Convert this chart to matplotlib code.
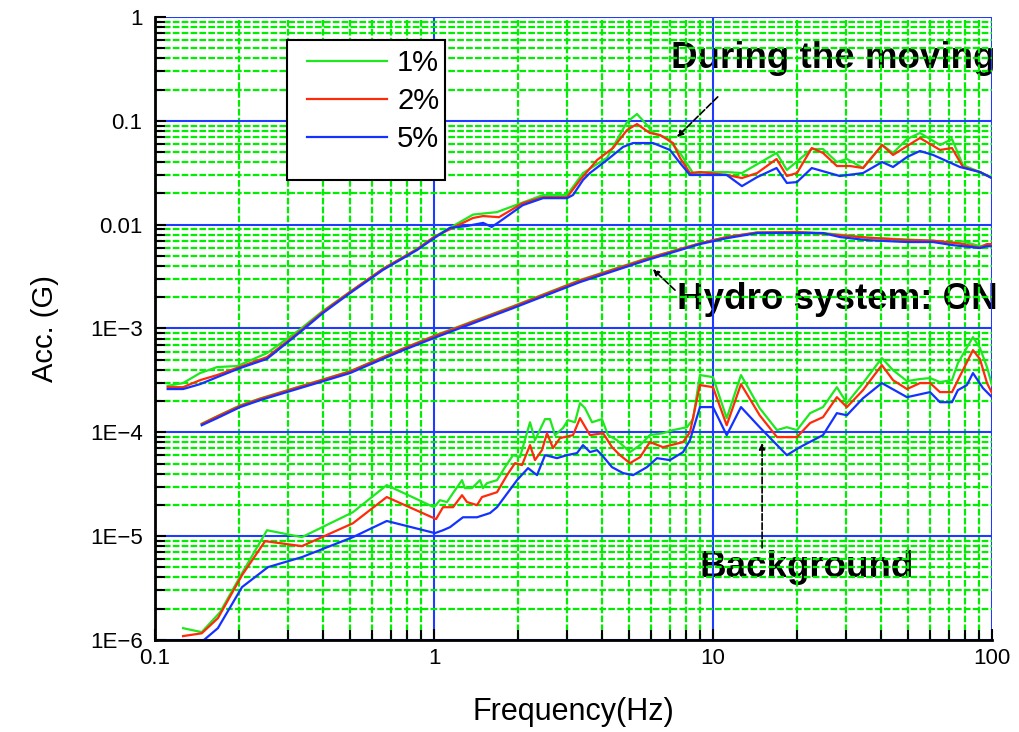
import numpy as np
import matplotlib
matplotlib.use("Agg")
import matplotlib.pyplot as plt
from matplotlib.ticker import LogLocator, NullFormatter
from matplotlib.patches import Rectangle

plt.rcParams['font.family'] = ['Liberation Sans', 'DejaVu Sans']

# response spectra, damping 1% / 2% / 5%
# --- during the moving ---
mov_f_5 = [0.111, 0.126, 0.145, 0.167, 0.202, 0.252, 0.331, 0.40, 0.50, 0.656, 0.869, 1.0, 1.14,
           1.31, 1.50, 1.61, 1.71, 2.08, 2.46, 3.0, 3.15, 3.42, 3.62, 4.17, 4.76, 5.17, 6.10, 7.01,
           7.62, 8.27, 9.51, 11.2, 12.7, 14.4, 16.9, 18.4, 20.0, 22.6, 28.5, 34.5, 40.4, 44.2, 49.6,
           55.2, 61.5, 76.8, 90.6, 100]
mov_a_5 = [2.61e-4, 2.61e-4, 2.91e-4, 3.40e-4, 4.16e-4, 5.10e-4, 9.2e-4, 1.41e-3, 2.19e-3, 3.66e-3,
           5.69e-3, 7.4e-3, 9.3e-3, 9.7e-3, 1.04e-2, 9.5e-3, 1.06e-2, 1.54e-2, 1.80e-2, 1.80e-2,
           1.93e-2, 2.69e-2, 3.14e-2, 4.19e-2, 5.60e-2, 6.11e-2, 6.11e-2, 5.24e-2, 3.92e-2, 3.01e-2,
           3.01e-2, 3.01e-2, 2.35e-2, 2.87e-2, 3.51e-2, 2.52e-2, 2.57e-2, 3.51e-2, 2.94e-2, 3.14e-2,
           4.01e-2, 3.59e-2, 4.48e-2, 5.12e-2, 4.69e-2, 3.59e-2, 3.21e-2, 2.81e-2]
mov_f_2 = [0.111, 0.126, 0.145, 0.167, 0.252, 0.331, 0.40, 0.50, 0.656, 0.869, 1.0, 1.38, 1.50,
           1.71, 2.08, 2.46, 3.0, 3.34, 3.84, 4.38, 4.92, 5.34, 5.94, 6.46, 7.19, 7.62, 8.27, 8.98,
           11.2, 12.7, 14.4, 16.9, 18.4, 20.0, 22.6, 24.8, 27.8, 31.0, 34.5, 40.4, 44.2, 49.6, 55.2,
           65.2, 71.9, 78.7, 90.6, 100]
mov_a_2 = [2.72e-4, 2.72e-4, 3.18e-4, 3.56e-4, 5.30e-4, 9.4e-4, 1.45e-3, 2.25e-3, 3.75e-3, 5.8e-3,
           7.6e-3, 1.16e-2, 1.21e-2, 1.18e-2, 1.61e-2, 1.84e-2, 1.84e-2, 2.69e-2, 4.19e-2, 5.47e-2,
           8.15e-2, 9.31e-2, 7.63e-2, 7.30e-2, 6.11e-2, 4.38e-2, 3.14e-2, 3.21e-2, 3.01e-2, 2.81e-2,
           3.14e-2, 4.29e-2, 2.94e-2, 3.14e-2, 5.47e-2, 4.90e-2, 3.67e-2, 3.67e-2, 3.51e-2, 5.85e-2,
           4.69e-2, 5.72e-2, 6.83e-2, 5.24e-2, 5.47e-2, 3.59e-2, 3.21e-2, 2.81e-2]
mov_f_1 = [0.111, 0.126, 0.145, 0.167, 0.197, 0.252, 0.331, 0.40, 0.50, 0.656, 0.869, 1.0, 1.38,
           1.68, 2.46, 3.0, 3.42, 4.17, 4.92, 5.34, 5.80, 6.10, 6.84, 7.62, 8.48, 9.51, 11.2, 12.7,
           16.9, 18.4, 22.6, 24.8, 27.8, 30.2, 34.5, 40.4, 44.2, 49.6, 55.2, 65.2, 71.9, 78.7, 90.6,
           100]
mov_a_1 = [2.80e-4, 2.98e-4, 3.72e-4, 4.25e-4, 4.35e-4, 5.79e-4, 9.8e-4, 1.48e-3, 2.25e-3, 3.75e-3,
           5.8e-3, 7.6e-3, 1.25e-2, 1.32e-2, 1.93e-2, 1.93e-2, 3.14e-2, 4.40e-2, 9.74e-2, 0.1163,
           9.11e-2, 7.63e-2, 6.83e-2, 4.90e-2, 3.14e-2, 3.21e-2, 3.21e-2, 3.14e-2, 4.90e-2, 3.36e-2,
           5.35e-2, 5.35e-2, 4.01e-2, 4.29e-2, 3.51e-2, 5.85e-2, 4.90e-2, 6.68e-2, 7.63e-2, 5.85e-2,
           6.68e-2, 3.75e-2, 3.21e-2, 2.81e-2]

# --- hydro system ON ---
hyd_f = [0.147, 0.167, 0.202, 0.238, 0.50, 0.755, 1.0, 1.92, 3.34, 5.80, 8.98, 11.2, 14.4, 20.0,
         24.8, 28.5, 35.6, 49.6, 61.5, 72.4, 78.7, 90.6, 95.9, 100]
hyd_a_5 = [1.17e-4, 1.37e-4, 1.75e-4, 2.04e-4, 3.72e-4, 6.0e-4, 8.1e-4, 1.57e-3, 2.80e-3, 4.56e-3,
           6.5e-3, 7.4e-3, 8.3e-3, 8.3e-3, 8.3e-3, 7.6e-3, 7.1e-3, 6.8e-3, 6.8e-3, 6.35e-3, 6.2e-3,
           5.95e-3, 6.2e-3, 6.2e-3]
hyd_a_2 = [1.20e-4, 1.42e-4, 1.80e-4, 2.10e-4, 3.85e-4, 6.2e-4, 8.4e-4, 1.62e-3, 2.90e-3, 4.70e-3,
           6.6e-3, 7.6e-3, 8.4e-3, 8.5e-3, 8.2e-3, 7.9e-3, 7.5e-3, 7.1e-3, 7.0e-3, 6.7e-3, 6.5e-3,
           6.0e-3, 6.5e-3, 6.5e-3]
hyd_a_1 = [1.21e-4, 1.43e-4, 1.82e-4, 2.12e-4, 3.88e-4, 6.25e-4, 8.5e-4, 1.64e-3, 2.93e-3, 4.75e-3,
           6.6e-3, 7.6e-3, 8.4e-3, 8.5e-3, 8.3e-3, 8.0e-3, 7.5e-3, 7.2e-3, 7.0e-3, 6.7e-3, 6.9e-3,
           6.2e-3, 6.4e-3, 6.5e-3]

# --- background ---
bg_f_1 = [0.126, 0.147, 0.171, 0.205, 0.252, 0.336, 0.512, 0.677, 1.0, 1.05, 1.113, 1.170, 1.260,
          1.291, 1.368, 1.462, 1.498, 1.549, 1.682, 1.797, 1.920, 2.033, 2.209, 2.301, 2.50, 2.605,
          2.715, 2.900, 3.02, 3.20, 3.337, 3.477, 3.685, 4.00, 4.205, 4.53, 5.04, 5.48, 5.94, 6.62,
          7.19, 8.07, 8.48, 8.98, 10.0, 11.2, 12.6, 14.7, 16.96, 18.4, 20.0, 22.3, 24.8, 27.8, 30.2,
          34.5, 40.3, 44.2, 49.6, 55.2, 60.0, 65.1, 71.9, 75.5, 85.5, 90.6, 96.0, 100]
bg_a_1 = [1.30e-6, 1.19e-6, 1.85e-6, 4.40e-6, 1.14e-5, 9.78e-6, 1.70e-5, 3.10e-5, 1.90e-5, 2.22e-5,
          2.13e-5, 2.60e-5, 3.46e-5, 2.90e-5, 2.90e-5, 3.46e-5, 2.90e-5, 3.24e-5, 3.46e-5, 4.62e-5,
          6.03e-5, 5.77e-5, 1.25e-4, 8.4e-5, 1.34e-4, 1.34e-4, 9.4e-5, 1.10e-4, 1.31e-4, 1.25e-4,
          1.91e-4, 1.71e-4, 1.25e-4, 1.34e-4, 9.4e-5, 8.4e-5, 6.45e-5, 7.53e-5, 9.4e-5, 9.8e-5,
          1.05e-4, 1.12e-4, 1.34e-4, 3.56e-4, 3.40e-4, 1.37e-4, 3.56e-4, 1.71e-4, 1.05e-4, 1.12e-4,
          1.05e-4, 1.53e-4, 1.75e-4, 2.72e-4, 1.91e-4, 2.98e-4, 5.19e-4, 3.97e-4, 3.11e-4, 3.26e-4,
          3.33e-4, 3.05e-4, 3.18e-4, 4.64e-4, 8.26e-4, 6.47e-4, 4.25e-4, 2.85e-4]
bg_f_2 = [0.126, 0.147, 0.168, 0.205, 0.248, 0.336, 0.512, 0.677, 1.017, 1.077, 1.170, 1.260, 1.313,
          1.426, 1.486, 1.682, 1.827, 1.952, 2.067, 2.209, 2.301, 2.438, 2.541, 2.670, 2.829, 3.15,
          3.337, 3.624, 4.04, 4.345, 4.64, 5.04, 5.48, 5.94, 6.62, 7.81, 8.27, 8.98, 10.0, 11.2,
          12.6, 14.7, 16.96, 20.0, 22.3, 24.8, 27.8, 30.2, 34.5, 40.3, 44.2, 49.6, 55.2, 60.0, 65.1,
          71.9, 75.5, 85.5, 90.6, 96.0, 100]
bg_a_2 = [1.09e-6, 1.16e-6, 1.62e-6, 4.21e-6, 8.95e-6, 8.01e-6, 1.33e-5, 2.38e-5, 1.46e-5, 1.90e-5,
          1.90e-5, 2.48e-5, 2.13e-5, 1.99e-5, 2.38e-5, 2.65e-5, 3.87e-5, 5.05e-5, 4.83e-5, 7.53e-5,
          5.40e-5, 6.74e-5, 9.8e-5, 7.05e-5, 8.8e-5, 9.4e-5, 1.37e-4, 9.4e-5, 9.8e-5, 7.2e-5,
          6.03e-5, 5.05e-5, 5.77e-5, 8.05e-5, 7.2e-5, 8.05e-5, 1.00e-4, 2.85e-4, 2.72e-4, 1.17e-4,
          2.91e-4, 1.46e-4, 9.0e-5, 9.0e-5, 1.23e-4, 1.40e-4, 2.18e-4, 1.75e-4, 2.55e-4, 4.44e-4,
          3.18e-4, 2.61e-4, 2.98e-4, 2.98e-4, 2.44e-4, 2.44e-4, 3.18e-4, 6.19e-4, 5.07e-4, 2.98e-4,
          2.39e-4]
bg_f_5 = [0.126, 0.145, 0.168, 0.205, 0.254, 0.336, 0.512, 0.677, 1.008, 1.077, 1.141, 1.27, 1.426,
          1.588, 1.682, 1.984, 2.173, 2.340, 2.50, 2.760, 2.997, 3.255, 3.42, 3.624, 3.84, 4.00,
          4.345, 4.76, 5.17, 5.80, 6.30, 7.01, 7.81, 8.27, 8.98, 10.0, 11.2, 12.6, 14.7, 18.4, 20.5,
          24.8, 27.8, 30.2, 34.5, 40.3, 49.6, 60.0, 65.1, 71.9, 75.5, 81.3, 85.5, 92.8, 100]
bg_a_5 = [8.0e-7, 9.3e-7, 1.30e-6, 3.23e-6, 5.03e-6, 6.28e-6, 9.78e-6, 1.40e-5, 1.07e-5, 1.14e-5,
          1.22e-5, 1.52e-5, 1.52e-5, 1.67e-5, 1.90e-5, 3.46e-5, 4.52e-5, 3.87e-5, 6.03e-5, 5.64e-5,
          6.03e-5, 6.31e-5, 7.53e-5, 6.45e-5, 6.74e-5, 6.03e-5, 4.62e-5, 4.05e-5, 3.87e-5, 4.62e-5,
          5.64e-5, 5.40e-5, 6.45e-5, 8.4e-5, 1.75e-4, 1.75e-4, 9.4e-5, 1.75e-4, 1.12e-4, 6.03e-5,
          7.2e-5, 9.4e-5, 1.53e-4, 1.46e-4, 2.13e-4, 2.98e-4, 2.18e-4, 2.44e-4, 1.95e-4, 1.95e-4,
          2.55e-4, 2.85e-4, 3.72e-4, 2.67e-4, 2.18e-4]

damping_labels = ['1%', '2%', '5%']
x_ticks = [0.1, 1, 10, 100]
x_ticklabels = ['0.1', '1', '10', '100']
y_ticks = [1e-6, 1e-5, 1e-4, 1e-3, 0.01, 0.1, 1]
y_ticklabels = ['1E\u22126', '1E\u22125', '1E\u22124', '1E\u22123', '0.01', '0.1', '1']

c_green = '#1ee81e'
c_red = '#ff2a0a'
c_blue = '#1432ff'

fig = plt.figure(figsize=(10.2, 7.32), dpi=100)
ax = fig.add_axes([0.152, 0.1257, 0.8205, 0.8511])
ax.set_xscale('log')
ax.set_yscale('log')
ax.set_xlim(0.1, 100)
ax.set_ylim(1e-6, 1)

# 1% first so it ends up at the bottom of each bundle
lw = 1.6
ax.plot(mov_f_1, mov_a_1, color=c_green, lw=lw, zorder=2, label=damping_labels[0])
ax.plot(hyd_f, hyd_a_1, color=c_green, lw=lw, zorder=2)
ax.plot(bg_f_1, bg_a_1, color=c_green, lw=lw, zorder=2)
ax.plot(mov_f_2, mov_a_2, color=c_red, lw=lw, zorder=2.1, label=damping_labels[1])
ax.plot(hyd_f, hyd_a_2, color=c_red, lw=lw, zorder=2.1)
ax.plot(bg_f_2, bg_a_2, color=c_red, lw=lw, zorder=2.1)
ax.plot(mov_f_5, mov_a_5, color=c_blue, lw=lw, zorder=2.2, label=damping_labels[2])
ax.plot(hyd_f, hyd_a_5, color=c_blue, lw=lw, zorder=2.2)
ax.plot(bg_f_5, bg_a_5, color=c_blue, lw=lw, zorder=2.2)

# grid: blue decades, green dashed subdivisions
ax.set_axisbelow('line')
ax.xaxis.set_minor_locator(LogLocator(base=10, subs=np.arange(2, 10), numticks=20))
ax.yaxis.set_minor_locator(LogLocator(base=10, subs=np.arange(2, 10), numticks=20))
ax.xaxis.set_minor_formatter(NullFormatter())
ax.yaxis.set_minor_formatter(NullFormatter())
ax.grid(which='minor', color='#00ee00', lw=1.6, linestyle=(0, (3, 1)))
ax.grid(which='major', color='#1e3cff', lw=1.5)

ax.set_xticks(x_ticks, x_ticklabels, fontsize=16)
ax.set_yticks(y_ticks, y_ticklabels, fontsize=16)
ax.tick_params(which='both', direction='in', color='black', width=1.5)
ax.tick_params(which='major', length=8)
ax.tick_params(which='minor', length=7)
ax.tick_params(axis='y', pad=9)
ax.tick_params(axis='x', pad=6)

for s in ['top', 'right']:
    ax.spines[s].set_visible(False)
for s in ['left', 'bottom']:
    ax.spines[s].set_linewidth(2)

ax.set_xlabel('Frequency(Hz)', fontsize=22, labelpad=20)
ax.set_ylabel('Acc. (G)', fontsize=21, labelpad=22)

# legend box
box = Rectangle((0.158, 0.738), 0.188, 0.225, transform=ax.transAxes, facecolor='white',
                edgecolor='black', lw=1.5, zorder=4)
ax.add_patch(box)
leg = ax.legend(loc='upper left', bbox_to_anchor=(0.150, 0.99), frameon=False, fontsize=21,
                handlelength=2.75, handletextpad=0.35, labelspacing=0.33)
leg.set_zorder(5)

# group labels and pointers
txt_kw = dict(fontsize=26.5, fontweight='bold', ha='left', va='center', zorder=1,
              transform=ax.transAxes)
ax.text(0.617, 0.933, 'During the moving', **txt_kw)
ax.text(0.624, 0.546, 'Hydro system: ON', **txt_kw)
ax.text(0.650, 0.117, 'Background', **txt_kw)

arrow_kw = dict(arrowstyle='-|>', color='black', lw=1.2, linestyle=(0, (4, 1.5)),
                mutation_scale=9, shrinkA=0, shrinkB=0)
ax.annotate('', xy=(7.43, 0.0698), xytext=(10.4, 0.170), arrowprops=arrow_kw, zorder=3)
ax.annotate('', xy=(6.09, 3.73e-3), xytext=(7.31, 2.34e-3), arrowprops=arrow_kw, zorder=3)
ax.annotate('', xy=(15.0, 7.9e-5), xytext=(15.0, 7.7e-6), arrowprops=arrow_kw, zorder=3)

fig.savefig('out.png', dpi=100)
